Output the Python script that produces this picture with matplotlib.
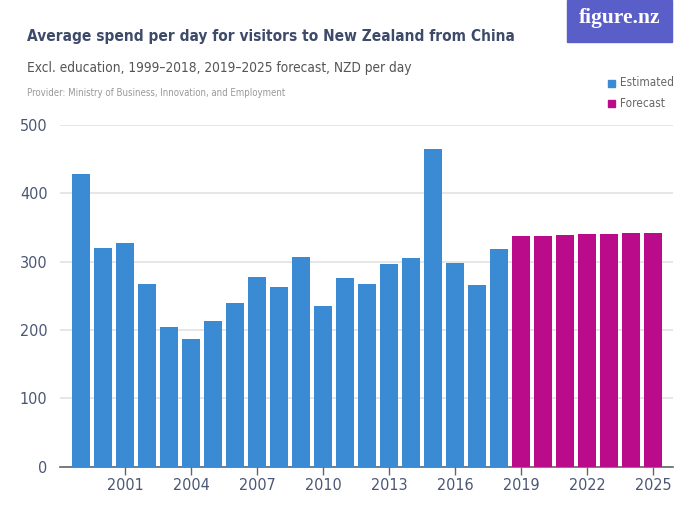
import matplotlib
matplotlib.use("Agg")
import matplotlib.pyplot as plt
import matplotlib.font_manager as fm
from matplotlib.patches import Rectangle

# pick a narrow font if one is installed, else Roboto
narrow = [f for f in fm.fontManager.ttflist
          if 'Narrow' in f.name or 'Condensed' in f.name or f.stretch in ('condensed', 'semi-condensed')]
font = narrow[0].name if narrow else 'Roboto'
stretch = narrow[0].stretch if narrow else 'normal'
plt.rcParams['font.family'] = [font, 'DejaVu Sans']
plt.rcParams['font.stretch'] = stretch

# DATA
years = list(range(1999, 2026))
spend = [428, 320, 327, 267, 205, 187, 213, 240, 277, 263, 307, 235, 276,
         267, 296, 306, 465, 298, 266, 318,
         337, 338, 339, 340, 340.5, 341.5, 342.5]
kind = ["Estimated"] * 20 + ["Forecast"] * 7
tick_years = [2001, 2004, 2007, 2010, 2013, 2016, 2019, 2022, 2025]
y_ticks = [0, 100, 200, 300, 400, 500]

colours = {"Estimated": "#3a8ad4", "Forecast": "#b90b8a"}
text_dark = "#3d4a6a"
tick_col = "#4b5775"

fig = plt.figure(figsize=(7, 5.25), dpi=100)
ax = fig.add_axes([60 / 700, (525 - 466.7) / 525, 613 / 700, 341.7 / 525])

ax.bar(years, spend, width=0.82, color=[colours[k] for k in kind], zorder=3)

ax.set_xlim(1998.03, 2025.9)
ax.set_ylim(0, 500)
ax.set_yticks(y_ticks)
ax.set_xticks(tick_years)
ax.grid(axis='y', color='#e1e1e1', linewidth=1.2, zorder=0)
for s in ['top', 'right', 'left']:
    ax.spines[s].set_visible(False)
ax.spines['bottom'].set_color('#666666')
ax.spines['bottom'].set_linewidth(1.2)
ax.tick_params(axis='y', length=0, pad=9, labelsize=11.5, labelcolor=tick_col)
ax.tick_params(axis='x', length=6, width=1, color='#666666', pad=2,
               labelsize=11.5, labelcolor=tick_col)

renderer = fig.canvas.get_renderer()


def fitted_text(x, y, s, width_px, size, **kw):
    # shrink/grow the font so the text spans about width_px pixels
    t = fig.text(x / 700, 1 - y / 525, s, fontsize=size, va='center', ha='left', **kw)
    w = t.get_window_extent(renderer).width
    t.set_fontsize(size * width_px / w)
    return t


fitted_text(27, 37, "Average spend per day for visitors to New Zealand from China", 488, 15,
            color=text_dark, weight='bold')
fitted_text(27, 68, "Excl. education, 1999\u20132018, 2019\u20132025 forecast, NZD per day", 386, 12,
            color="#555555")
fitted_text(27, 93, "Provider: Ministry of Business, Innovation, and Employment", 259, 8,
            color="#999999")

# logo
fig.patches.append(Rectangle((567 / 700, 1 - 42 / 525), 105 / 700, 42 / 525,
                             transform=fig.transFigure, color="#5a5ec8"))
fig.text(619.5 / 700, 1 - 18 / 525, "figure.nz", fontsize=15.5, color="white",
         family=['Liberation Serif', 'DejaVu Serif'], stretch='normal', weight='bold',
         va='center', ha='center')

# legend
for i, name in enumerate(["Estimated", "Forecast"]):
    yc = 83 + i * 20
    fig.patches.append(Rectangle((608 / 700, 1 - (yc + 3.5) / 525), 6.5 / 700, 7 / 525,
                                 transform=fig.transFigure, color=colours[name]))
    fig.text(620 / 700, 1 - yc / 525, name, fontsize=8.5, color="#666666",
             va='center', ha='left')

fig.savefig("out.png", dpi=100)
